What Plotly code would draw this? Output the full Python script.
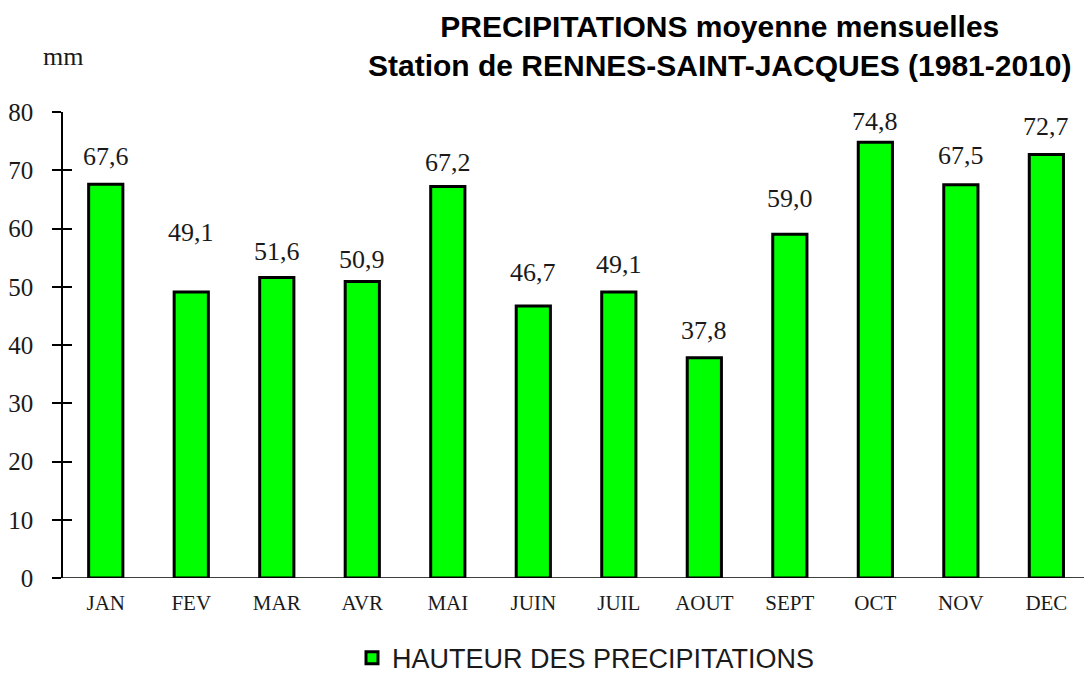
import plotly.graph_objects as go

months = ["JAN", "FEV", "MAR", "AVR", "MAI", "JUIN", "JUIL", "AOUT", "SEPT", "OCT", "NOV", "DEC"]
precip_mm = [67.6, 49.1, 51.6, 50.9, 67.2, 46.7, 49.1, 37.8, 59.0, 74.8, 67.5, 72.7]
y_ticks = [0, 10, 20, 30, 40, 50, 60, 70, 80]
series_name = "HAUTEUR DES PRECIPITATIONS"
title_lines = ["PRECIPITATIONS moyenne mensuelles",
               "Station de RENNES-SAINT-JACQUES (1981-2010)"]
unit_label = "mm"

# pixel gap between label baseline and bar top (label placement style)
label_gap_px = [16, 48, 14, 11, 13, 22, 16, 16, 24, 9, 18, 17]

SERIF = "Liberation Serif, Times New Roman, serif"
SANS = "Liberation Sans, Arial, sans-serif"
BAR_GREEN = "#00FF00"

fig = go.Figure()
fig.add_trace(go.Bar(
    x=months, y=precip_mm, name=series_name,
    marker=dict(color=BAR_GREEN, line=dict(color="black", width=3)),
    showlegend=True, hoverinfo="x+y",
))

annotations = []
for m, v, g in zip(months, precip_mm, label_gap_px):
    annotations.append(dict(
        x=m, y=v, xref="x", yref="y",
        text=f"{v:.1f}".replace(".", ","),
        showarrow=False, yanchor="bottom", xanchor="center",
        yshift=g - 5,
        font=dict(family=SERIF, size=26, color="#1a1a1a"),
    ))
annotations.append(dict(
    x=0, y=1, xref="paper", yref="paper", text=unit_label,
    showarrow=False, xanchor="center", yanchor="bottom", yshift=39,
    font=dict(family=SERIF, size=26, color="#1a1a1a"),
))
# chart title (two centred bold lines)
annotations.append(dict(
    x=(720 - 63) / 1021, y=1, xref="paper", yref="paper",
    text="<b>" + "<br>".join(title_lines) + "</b>",
    showarrow=False, xanchor="center", yanchor="bottom", yshift=28,
    align="center",
    font=dict(family=SANS, size=30, color="black"),
))

fig.update_layout(
    width=1084, height=675,
    margin=dict(l=63, r=0, t=112, b=97, pad=0, autoexpand=False),
    paper_bgcolor="white", plot_bgcolor="white",
    bargap=0.6,
    xaxis=dict(
        range=[-0.5, 11.44], showgrid=False, zeroline=False,
        showline=False, ticks="", automargin=False,
        tickfont=dict(family=SERIF, size=21, color="#1a1a1a"),
        ticklabelstandoff=10,
    ),
    yaxis=dict(
        range=[0, 80], tickvals=y_ticks, showgrid=False, zeroline=False,
        showline=True, linecolor="black", linewidth=1.5, automargin=False,
        ticks="outside", ticklen=9, tickcolor="black", tickwidth=1.5,
        tickfont=dict(family=SERIF, size=25, color="#1a1a1a"),
        ticklabelstandoff=14,
    ),
    yaxis2=dict(
        range=[0, 80], tickvals=y_ticks, overlaying="y", side="left",
        anchor="x", showgrid=False, zeroline=False, showline=False,
        ticks="inside", ticklen=9, tickcolor="black", tickwidth=1.5,
        showticklabels=False,
    ),
    legend=dict(
        orientation="h", xref="paper", yref="paper",
        x=(586 - 63) / 1021, xanchor="center", y=-0.1196, yanchor="top",
        font=dict(family=SANS, size=27, color="#1a1a1a"),
        itemwidth=30,
    ),
    annotations=annotations,
    shapes=[dict(type="line", xref="paper", yref="y", x0=-9 / 1021, x1=1, y0=0, y1=0,
                 line=dict(color="black", width=1.5))],
)

fig.add_trace(go.Scatter(x=[months[0]], y=[0], yaxis="y2", mode="markers",
                         marker=dict(opacity=0), showlegend=False, hoverinfo="skip"))

fig.write_html("out.html")
